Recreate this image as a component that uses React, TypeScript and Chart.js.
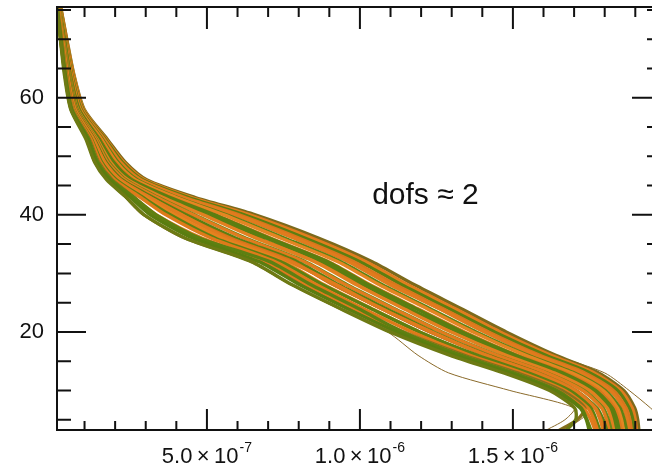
import React, { useEffect, useRef } from "react";
import { Chart, registerables } from "chart.js";

Chart.register(...registerables);

// Altitude grid (km) shared by every profile
const altitudes = [76, 70, 64, 58, 53, 49, 46, 43, 40, 36, 32, 28, 24, 20, 16, 13, 10, 7, 5, 3];

// Profiles, values in units of 1e-7
const profile00 = [0.08, 0.21, 0.34, 0.55, 1.04, 1.33, 1.72, 2.36, 2.95, 4.30, 6.45, 7.80, 9.35, 10.98, 12.95, 14.70, 16.20, 17.02, 17.05, 16.70];
const profile01 = [0.09, 0.22, 0.36, 0.57, 1.10, 1.38, 1.80, 2.50, 3.15, 4.55, 6.70, 8.05, 9.58, 11.20, 13.10, 14.85, 16.35, 17.20, 17.40, 17.50];
const profile02 = [0.10, 0.22, 0.37, 0.60, 1.13, 1.43, 1.86, 2.60, 3.35, 4.85, 6.95, 8.30, 9.80, 11.40, 13.30, 15.00, 16.45, 17.30, 17.55, 17.70];
const profile03 = [0.10, 0.23, 0.38, 0.61, 1.15, 1.46, 1.90, 2.62, 3.30, 4.72, 6.85, 8.22, 9.78, 11.42, 13.42, 15.15, 16.60, 17.35, 17.10, 16.45];
const profile04 = [0.11, 0.24, 0.40, 0.64, 1.20, 1.52, 1.98, 2.82, 3.66, 5.15, 7.22, 8.60, 10.10, 11.70, 13.60, 15.30, 16.70, 17.45, 17.65, 17.78];
const profile05 = [0.11, 0.25, 0.41, 0.65, 1.22, 1.56, 2.04, 2.90, 3.80, 5.28, 7.40, 8.80, 10.35, 11.95, 13.85, 15.50, 16.85, 17.55, 17.72, 17.85];
const profile06 = [0.12, 0.26, 0.43, 0.67, 1.25, 1.60, 2.10, 3.00, 3.95, 5.50, 7.50, 8.85, 10.38, 11.95, 13.80, 15.45, 16.80, 17.50, 17.68, 17.80];
const profile07 = [0.12, 0.27, 0.44, 0.69, 1.28, 1.65, 2.16, 3.12, 4.15, 5.78, 7.80, 9.15, 10.70, 12.30, 14.15, 15.78, 17.05, 17.70, 17.88, 17.98];
const profile08 = [0.13, 0.28, 0.46, 0.71, 1.31, 1.70, 2.22, 3.22, 4.32, 5.95, 7.95, 9.32, 10.85, 12.40, 14.20, 15.80, 17.05, 17.75, 17.95, 18.08];
const profile09 = [0.14, 0.29, 0.47, 0.73, 1.35, 1.75, 2.30, 3.35, 4.55, 6.22, 8.18, 9.55, 11.08, 12.65, 14.48, 16.08, 17.28, 17.90, 18.06, 18.15];
const profile10 = [0.14, 0.30, 0.49, 0.76, 1.37, 1.79, 2.34, 3.40, 4.60, 6.28, 8.22, 9.60, 11.12, 12.68, 14.50, 16.10, 17.32, 17.95, 18.12, 18.22];
const profile11 = [0.15, 0.31, 0.50, 0.78, 1.40, 1.85, 2.41, 3.55, 4.88, 6.60, 8.52, 9.90, 11.42, 12.98, 14.78, 16.35, 17.50, 18.08, 18.22, 18.30];
const profile12 = [0.15, 0.32, 0.52, 0.80, 1.44, 1.90, 2.47, 3.60, 4.95, 6.70, 8.62, 10.00, 11.52, 13.05, 14.82, 16.38, 17.52, 18.12, 18.28, 18.38];
const profile13 = [0.16, 0.34, 0.53, 0.82, 1.47, 1.95, 2.54, 3.78, 5.25, 7.05, 8.95, 10.30, 11.82, 13.35, 15.10, 16.62, 17.70, 18.25, 18.40, 18.48];
const profile14 = [0.16, 0.35, 0.55, 0.84, 1.50, 1.99, 2.58, 3.80, 5.28, 7.10, 8.98, 10.35, 11.88, 13.42, 15.15, 16.70, 17.80, 18.32, 18.46, 18.55];
const profile15 = [0.17, 0.36, 0.56, 0.86, 1.54, 2.04, 2.66, 3.98, 5.56, 7.42, 9.28, 10.65, 12.18, 13.70, 15.42, 16.92, 17.95, 18.42, 18.55, 18.62];
const profile16 = [0.18, 0.37, 0.58, 0.89, 1.57, 2.09, 2.72, 4.02, 5.64, 7.55, 9.38, 10.75, 12.28, 13.80, 15.50, 17.00, 18.02, 18.50, 18.64, 18.72];
const profile17 = [0.18, 0.38, 0.59, 0.91, 1.60, 2.14, 2.79, 4.18, 5.90, 7.85, 9.66, 11.05, 12.58, 14.08, 15.78, 17.24, 18.18, 18.62, 18.74, 18.80];
const profile18 = [0.19, 0.39, 0.61, 0.93, 1.63, 2.18, 2.84, 4.26, 6.05, 8.02, 9.80, 11.18, 12.70, 14.20, 15.88, 17.35, 18.28, 18.70, 18.82, 18.88];
const profile19 = [0.19, 0.40, 0.62, 0.95, 1.66, 2.23, 2.90, 4.38, 6.22, 8.22, 10.00, 11.38, 12.90, 14.40, 16.08, 17.52, 18.42, 18.80, 18.92, 18.96];
const profile20 = [0.20, 0.41, 0.64, 0.97, 1.69, 2.28, 2.96, 4.48, 6.40, 8.45, 10.20, 11.58, 13.10, 14.58, 16.25, 17.66, 18.52, 18.90, 19.00, 19.04];
const profile21 = [0.20, 0.42, 0.65, 0.99, 1.73, 2.33, 3.03, 4.60, 6.58, 8.66, 10.40, 11.80, 13.30, 14.78, 16.40, 17.80, 18.62, 18.98, 19.08, 19.12];
const profile22 = [0.09, 0.23, 0.37, 0.59, 1.13, 1.43, 1.87, 2.61, 3.34, 4.78, 7.05, 8.42, 9.95, 11.40, 13.32, 15.02, 16.44, 17.23, 17.42, 17.56];
const profile23 = [0.12, 0.28, 0.44, 0.69, 1.28, 1.66, 2.17, 3.12, 4.18, 5.65, 7.70, 9.25, 10.70, 12.35, 14.11, 15.74, 17.01, 17.68, 17.85, 17.96];
const profile24 = [0.15, 0.33, 0.52, 0.81, 1.45, 1.92, 2.50, 3.68, 5.00, 6.95, 8.79, 10.16, 11.60, 13.22, 14.98, 16.52, 17.62, 18.17, 18.31, 18.39];
const profile25 = [0.18, 0.38, 0.60, 0.91, 1.61, 2.15, 2.80, 4.20, 5.94, 7.89, 9.62, 11.00, 12.60, 14.09, 15.70, 17.15, 18.18, 18.62, 18.74, 18.79];
const profile26 = [0.19, 0.40, 0.63, 0.96, 1.67, 2.25, 2.93, 4.42, 6.30, 8.33, 10.09, 11.48, 12.99, 14.47, 16.13, 17.55, 18.43, 18.81, 18.92, 18.96];
const outlierLow = [0.08, 0.20, 0.33, 0.52, 1.03, 1.30, 1.70, 2.30, 2.88, 4.20, 6.38, 7.74, 9.28, 10.90, 11.90, 12.90, 14.90, 17.00, 16.70, 16.00];
const outlierRight = [0.20, 0.42, 0.65, 0.99, 1.72, 2.32, 3.02, 4.58, 6.56, 8.64, 10.37, 11.76, 13.27, 14.74, 16.40, 18.00, 18.80, 19.50, 19.90, 20.30];
const outlierHook = [0.12, 0.27, 0.44, 0.68, 1.27, 1.64, 2.14, 3.08, 4.11, 5.70, 7.72, 9.09, 10.62, 12.19, 14.05, 15.67, 16.96, 17.60, 17.20, 16.60];

const mainProfiles = [
  profile00, profile01, profile22, profile02, profile03, profile04, profile05, profile06, profile23, profile07,
  profile08, profile09, profile10, profile11, profile24, profile12, profile13, profile14, profile15,
  profile16, profile25, profile17, profile18, profile19, profile26, profile20, profile21,
];
const outlierProfiles = [outlierLow, outlierRight, outlierHook];

const yTickValues = [20, 40, 60];
const yMinorValues = [5, 10, 15, 25, 30, 35, 45, 50, 55, 65, 70, 75];
const xTickValues = [5e-7, 1e-6, 1.5e-6];
const xTickMantissas = ["5.0\u2009×\u200910", "1.0\u2009×\u200910", "1.5\u2009×\u200910"];
const xTickExponents = ["-7", "-6", "-6"];
const xMinorValues = [1e-7, 2e-7, 3e-7, 4e-7, 6e-7, 7e-7, 8e-7, 9e-7, 1.1e-6, 1.2e-6, 1.3e-6, 1.4e-6, 1.6e-6, 1.7e-6, 1.8e-6, 1.9e-6];
const annotationText = "dofs ≈ 2";
const annotationX = 1.04e-6;
const annotationY = 41.8;

const UNIT = 1e-7;
const FONT = "'Liberation Sans', Arial, Helvetica, sans-serif";

const lineColors = [
  "#6d7a14", "#5a7d10", "#5d8012", "#e07b1e", "#86701c", "#df7a1a", "#5d8012", "#e5821f", "#e07b1e", "#d9741a",
  "#5b7e11", "#e07b1e", "#6a8614", "#e28020", "#5b7e11", "#e07b1e", "#5b7e11", "#dd781b", "#e48522",
  "#5f8113", "#e07b1e", "#e07b1e", "#d8761c", "#5b7e11", "#e2801f", "#e07b1e", "#7b6a1c",
];

const framePlugin = {
  id: "frame",
  afterDatasetsDraw(chart: any) {
    const { ctx, chartArea: a, scales } = chart;
    const x = scales.x;
    const y = scales.y;
    ctx.save();
    ctx.strokeStyle = "#111";
    ctx.lineWidth = 2;
    ctx.beginPath();
    ctx.rect(a.left, a.top, a.right - a.left, a.bottom - a.top);
    ctx.stroke();
    ctx.beginPath();
    const seg = (x1: number, y1: number, x2: number, y2: number) => {
      ctx.moveTo(x1, y1);
      ctx.lineTo(x2, y2);
    };
    for (const v of yTickValues) {
      const p = y.getPixelForValue(v);
      seg(a.left, p, a.left + 29, p);
      seg(a.right, p, a.right - 29, p);
    }
    for (const v of yMinorValues) {
      const p = y.getPixelForValue(v);
      seg(a.left, p, a.left + 14, p);
      seg(a.right, p, a.right - 14, p);
    }
    for (const v of xTickValues) {
      const p = x.getPixelForValue(v);
      seg(p, a.bottom, p, a.bottom - 21);
      seg(p, a.top, p, a.top + 22);
    }
    for (const v of xMinorValues) {
      const p = x.getPixelForValue(v);
      seg(p, a.bottom, p, a.bottom - 9);
      seg(p, a.top, p, a.top + 10);
    }
    ctx.stroke();

    // x tick labels with raised exponents
    ctx.fillStyle = "#111";
    ctx.textBaseline = "alphabetic";
    ctx.textAlign = "left";
    xTickValues.forEach((v, i) => {
      const p = x.getPixelForValue(v);
      ctx.font = `22px ${FONT}`;
      const wm = ctx.measureText(xTickMantissas[i]).width;
      ctx.font = `14px ${FONT}`;
      const we = ctx.measureText(xTickExponents[i]).width;
      const start = p - (wm + 1 + we) / 2;
      const base = a.bottom + 33;
      ctx.font = `22px ${FONT}`;
      ctx.fillText(xTickMantissas[i], start, base);
      ctx.font = `14px ${FONT}`;
      ctx.fillText(xTickExponents[i], start + wm + 1, base - 11);
    });

    ctx.font = `30px ${FONT}`;
    ctx.fillText(annotationText, x.getPixelForValue(annotationX), y.getPixelForValue(annotationY));
    ctx.restore();
  },
};

const zeroPadding = (s: any) => {
  s.paddingLeft = 0;
  s.paddingRight = 0;
  s.paddingTop = 0;
  s.paddingBottom = 0;
};

export default function App() {
  const canvasRef = useRef<HTMLCanvasElement | null>(null);

  useEffect(() => {
    const canvas = canvasRef.current;
    if (!canvas) return;
    const datasets: any[] = [];
    mainProfiles.forEach((p, i) => {
      datasets.push({
        data: altitudes.map((alt, k) => ({ x: p[k] * UNIT, y: alt })),
        borderColor: lineColors[i],
        borderWidth: 3.4,
        pointRadius: 0,
        showLine: true,
        tension: 0.25,
        clip: 0,
      });
    });
    outlierProfiles.forEach((p) => {
      datasets.push({
        data: altitudes.map((alt, k) => ({ x: p[k] * UNIT, y: alt })),
        borderColor: "#8a6a2a",
        borderWidth: 1,
        pointRadius: 0,
        showLine: true,
        tension: 0.25,
        clip: 0,
      });
    });

    const chart = new Chart(canvas, {
      type: "scatter",
      data: { datasets },
      options: {
        responsive: false,
        devicePixelRatio: 1,
        animation: false,
        events: [],
        layout: { padding: { left: 0, top: 7, right: 9, bottom: 0 } },
        plugins: { legend: { display: false }, tooltip: { enabled: false } },
        scales: {
          x: {
            type: "linear",
            min: 1e-8,
            max: 1.984e-6,
            grid: { display: false, drawTicks: false },
            border: { display: false },
            afterFit: (s: any) => {
              s.height = 39;
              zeroPadding(s);
            },
            afterBuildTicks: (s: any) => {
              s.ticks = xTickValues.map((v) => ({ value: v }));
            },
            ticks: { display: false },
          },
          y: {
            type: "linear",
            min: 3.25,
            max: 75.5,
            grid: { display: false, drawTicks: false },
            border: { display: false },
            afterFit: (s: any) => {
              s.width = 57;
              zeroPadding(s);
            },
            afterBuildTicks: (s: any) => {
              s.ticks = yTickValues.map((v) => ({ value: v }));
            },
            ticks: {
              autoSkip: false,
              padding: 13,
              color: "#111",
              font: { family: FONT, size: 22 },
              callback: (v: any) => String(v),
            },
          },
        },
      },
      plugins: [framePlugin],
    });
    return () => chart.destroy();
  }, []);

  return (
    <div
      style={{
        position: "fixed",
        left: 0,
        top: 0,
        width: 652,
        height: 469,
        overflow: "hidden",
        background: "#fff",
      }}
    >
      <canvas ref={canvasRef} width={670} height={469} style={{ display: "block", width: 670, height: 469 }} />
    </div>
  );
}
